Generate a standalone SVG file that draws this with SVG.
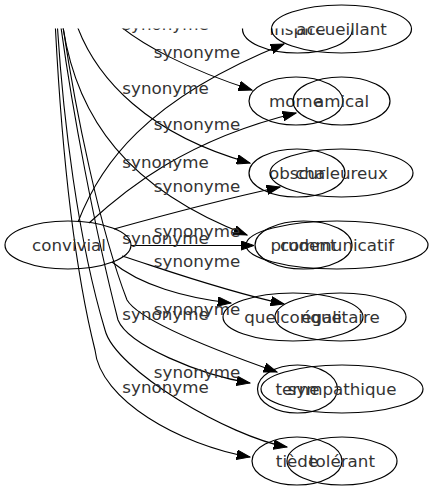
<svg xmlns="http://www.w3.org/2000/svg" width="433" height="491" viewBox="0 0 433 491">
<style>
.n ellipse{fill:none;stroke:#000;stroke-width:1.2}
text{font-family:"DejaVu Sans","Liberation Sans",sans-serif;font-size:16.7px;fill:#333;text-anchor:middle}
.e path{fill:none;stroke:#000;stroke-width:1.1;marker-end:url(#ah)}
</style>
<defs>
<marker id="ah" markerUnits="userSpaceOnUse" viewBox="0 -5 14 10" refX="13.3" refY="0" markerWidth="14" markerHeight="10" orient="auto">
<path d="M0,-4.7 L13.3,0 L0,4.7 z" fill="#000" stroke="#000" stroke-width="1"/>
</marker>
<clipPath id="cut"><rect x="0" y="28.5" width="433" height="463"/></clipPath>
</defs>
<rect width="433" height="491" fill="#fff"/>

<g id="connectors" class="e">
  <g clip-path="url(#cut)">
    <path d="M113,20 C140,45 190,70 252,90"/>
    <path d="M75,20 C95,80 150,135 250,163"/>
    <path d="M62,20 C75,120 130,190 247,235"/>
    <path d="M62,20 C75,110 100,230 127,300 C140,322 220,352 277,372"/>
    <path d="M60,20 C72,110 95,230 118,320 C128,345 200,375 250,383"/>
    <path d="M57,20 C63,120 78,240 105,330 C115,370 230,437 287,447"/>
    <path d="M55,20 C60,120 70,250 95,350 C100,400 180,445 250,457"/>
  </g>
  <path d="M78,222 C100,165 145,100 284,44"/>
  <path d="M89,223 C125,190 185,140 296,113"/>
  <path d="M114,229 C150,219 220,200 280,187"/>
  <path d="M131,245.5 L254,245.5"/>
  <path d="M122,256 C160,268 220,290 284,304"/>
  <path d="M112,262 C140,285 185,298 231,303"/>
</g>

<g id="labels">
  <g clip-path="url(#cut)"><text x="165.5" y="30">synonyme</text></g>
  <text x="165.5" y="94.3">synonyme</text>
  <text x="165.5" y="167.7">synonyme</text>
  <text x="165.5" y="244">synonyme</text>
  <text x="165.5" y="320">synonyme</text>
  <text x="165.5" y="393.3">synonyme</text>
  <text x="197" y="57.7">synonyme</text>
  <text x="197" y="130">synonyme</text>
  <text x="197" y="191.7">synonyme</text>
  <text x="197" y="236.7">synonyme</text>
  <text x="197" y="266.7">synonyme</text>
  <text x="197" y="315">synonyme</text>
  <text x="197" y="377.7">synonyme</text>
</g>

<g id="convivial" class="n"><ellipse cx="68" cy="245" rx="63" ry="24"/><text x="69" y="250.8">convivial</text></g>

<g id="inspire" class="n" clip-path="url(#cut)"><ellipse cx="297.5" cy="29" rx="55" ry="24"/><text x="297.5" y="34.8">inspiré</text></g>
<g id="morne" class="n"><ellipse cx="296" cy="101" rx="47" ry="24"/><text x="296" y="106.8">morne</text></g>
<g id="obscur" class="n"><ellipse cx="297" cy="173" rx="48" ry="24"/><text x="297" y="178.8">obscur</text></g>
<g id="prudent" class="n"><ellipse cx="303.5" cy="245" rx="48.5" ry="24"/><text x="303.5" y="250.8">prudent</text></g>
<g id="quelconque" class="n"><ellipse cx="293" cy="317" rx="70" ry="24"/><text x="293" y="322.8">quelconque</text></g>
<g id="terne" class="n"><ellipse cx="297.5" cy="389" rx="40" ry="24"/><text x="297.5" y="394.8">terne</text></g>
<g id="tiede" class="n"><ellipse cx="297" cy="461" rx="45" ry="24"/><text x="297" y="466.8">tiède</text></g>

<g id="accueillant" class="n"><ellipse cx="341.5" cy="29" rx="70" ry="24"/><text x="341.5" y="34.8">accueillant</text></g>
<g id="amical" class="n"><ellipse cx="341.5" cy="101" rx="48.5" ry="24"/><text x="341.5" y="106.8">amical</text></g>
<g id="chaleureux" class="n"><ellipse cx="341.5" cy="173" rx="71.5" ry="24"/><text x="341.5" y="178.8">chaleureux</text></g>
<g id="communicatif" class="n"><ellipse cx="337" cy="245" rx="91" ry="24"/><text x="337" y="250.8">communicatif</text></g>
<g id="egalitaire" class="n"><ellipse cx="340.5" cy="317" rx="65.5" ry="24"/><text x="340.5" y="322.8">égalitaire</text></g>
<g id="sympathique" class="n"><ellipse cx="342" cy="389" rx="81" ry="24"/><text x="342" y="394.8">sympathique</text></g>
<g id="tolerant" class="n"><ellipse cx="342" cy="461" rx="55" ry="24"/><text x="342" y="466.8">tolérant</text></g>
</svg>
